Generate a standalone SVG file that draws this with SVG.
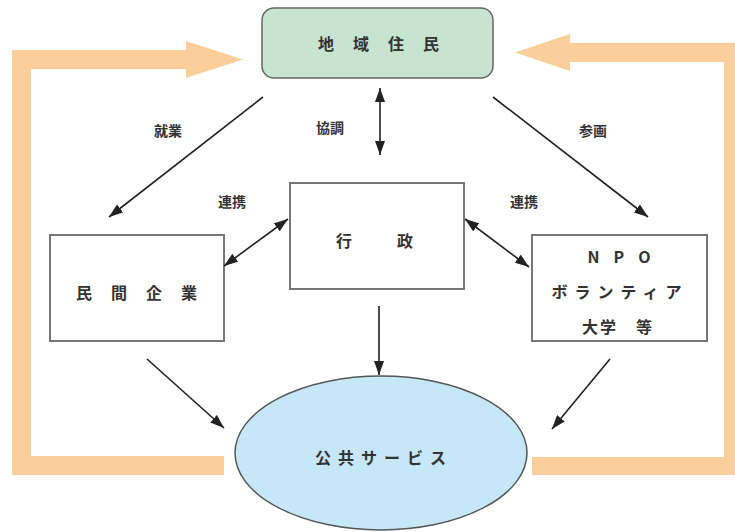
<svg xmlns="http://www.w3.org/2000/svg" width="735" height="532" viewBox="0 0 735 532">
<defs>
<style>
.t{font-family:"Noto Sans CJK JP","Liberation Sans",sans-serif;fill:#333;font-weight:bold}
.n{font-size:16px;text-anchor:middle;dominant-baseline:central}
.l{font-size:14px;text-anchor:middle;dominant-baseline:central}
.box{fill:#fff;stroke:#777;stroke-width:2}
.c{stroke:#222;stroke-width:1.6;fill:none}
.o{fill:#fccf9a}
</style>
<marker id="ah" viewBox="0 0 14 10" refX="14" refY="5" markerWidth="14" markerHeight="10" markerUnits="userSpaceOnUse" orient="auto-start-reverse">
<path d="M0,0 L14,5 L0,10 z" fill="#222"/>
</marker>
</defs>
<rect width="735" height="532" fill="#fff"/>
<g id="feedback">
<path class="o" d="M12,50 H186 V41 L243,59.5 L186,78 V69 H31 V456 H224 V475 H12 Z"/>
<path class="o" d="M735,43 H570 V34 L515,52.5 L570,71 V62 H724 V457 H532 V475 H735 Z"/>
</g>
<g id="residents">
<rect x="262" y="8" width="231" height="70" rx="12" fill="#c6e4d0" stroke="#666" stroke-width="1.5"/>
<text class="t n" x="388" y="43" style="letter-spacing:19px">地域住民</text>
</g>
<g id="companies">
<rect class="box" x="50" y="235" width="174" height="106"/>
<text class="t n" x="146" y="292" style="letter-spacing:19px">民間企業</text>
</g>
<g id="government">
<rect class="box" x="290" y="183" width="174" height="106"/>
<text class="t n" x="397" y="240" style="letter-spacing:45px">行政</text>
</g>
<g id="npo">
<rect class="box" x="532" y="235" width="175" height="106"/>
<text class="t n" x="626" y="256" style="letter-spacing:14px">NPO</text>
<text class="t n" x="620" y="291" style="letter-spacing:7px">ボランティア</text>
<text class="t n" x="618" y="326" style="letter-spacing:2px">大学　等</text>
</g>
<g id="public-service">
<ellipse cx="381" cy="453" rx="146" ry="77" fill="#c6e7f8" stroke="#555" stroke-width="1.5"/>
<text class="t n" x="384" y="457" style="letter-spacing:7px">公共サービス</text>
</g>
<g id="connectors">
<line class="c" x1="263" y1="97" x2="109" y2="217" marker-end="url(#ah)"/>
<line class="c" x1="493" y1="97" x2="648" y2="217" marker-end="url(#ah)"/>
<line class="c" x1="380" y1="88" x2="380" y2="155" marker-start="url(#ah)" marker-end="url(#ah)"/>
<line class="c" x1="288" y1="219" x2="224" y2="266" marker-start="url(#ah)" marker-end="url(#ah)"/>
<line class="c" x1="465" y1="219" x2="529" y2="267" marker-start="url(#ah)" marker-end="url(#ah)"/>
<line class="c" x1="379" y1="306" x2="379" y2="375" marker-end="url(#ah)"/>
<line class="c" x1="147" y1="359" x2="224" y2="428" marker-end="url(#ah)"/>
<line class="c" x1="610" y1="359" x2="552" y2="429" marker-end="url(#ah)"/>
</g>
<g id="labels">
<text class="t l" x="168" y="130">就業</text>
<text class="t l" x="330" y="127">協調</text>
<text class="t l" x="593" y="130">参画</text>
<text class="t l" x="232" y="201">連携</text>
<text class="t l" x="524" y="201">連携</text>
</g>
</svg>
